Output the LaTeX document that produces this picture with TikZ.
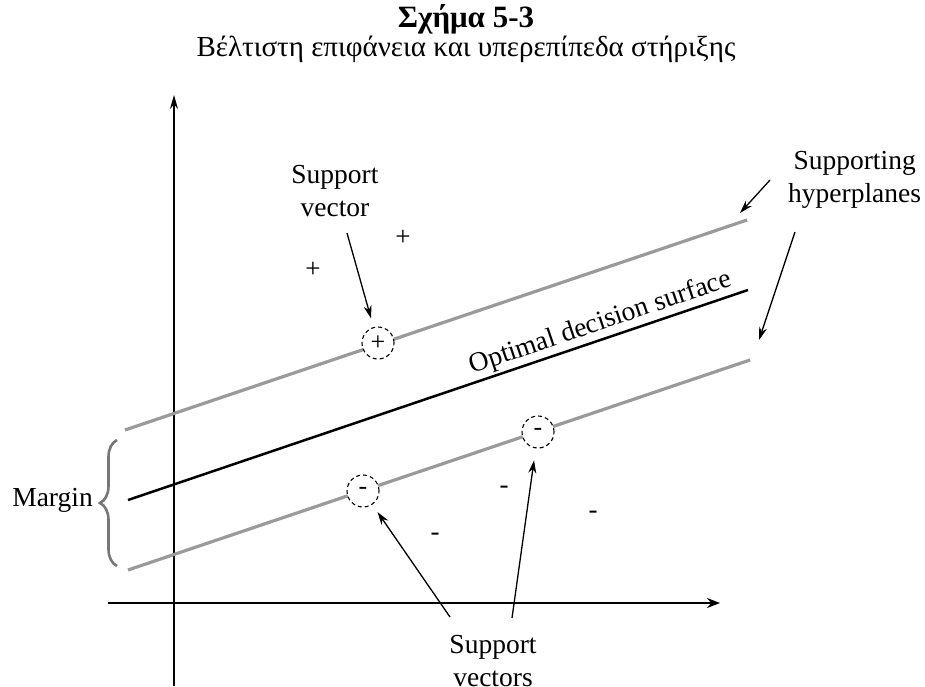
\documentclass[tikz,border=0pt]{standalone}
\usepackage{fontspec}
\setmainfont{Liberation Serif}
\usetikzlibrary{arrows.meta,decorations.pathreplacing}
\definecolor{hypgray}{HTML}{9A9A9A}
\definecolor{bracegray}{HTML}{777777}
\begin{document}
\begin{tikzpicture}[x=1pt,y=-1pt,
  lbl/.style={font=\fontsize{27.5}{33}\selectfont, inner sep=0pt, align=center},
  axisline/.style={draw=black},
  hyp/.style={draw=hypgray, line width=3.2pt},
  opt/.style={draw=black, line width=2.5pt},
  svc/.style={circle, draw=black, dashed, line width=1.1pt, minimum size=32pt, inner sep=0pt,
    dash pattern=on 4pt off 3pt, font=\fontsize{26}{26}\selectfont},
  pt/.style={font=\fontsize{27}{27}\selectfont, inner sep=0pt},
  arr/.style={draw=black, line width=1.3pt, -{Stealth[length=13pt,width=8pt]}},
  brc/.style={draw=bracegray, line width=2.6pt, decorate,
    decoration={brace, amplitude=17pt}}
]
\useasboundingbox (0,0) rectangle (925,686);

% titles
\node[font=\bfseries\fontsize{31}{35}\selectfont, inner sep=0pt, anchor=base] (title) at (466,27) {Σχήμα 5-3};
\node[font=\fontsize{29}{33}\selectfont, inner sep=0pt, anchor=base] (subtitle) at (466,56) {Βέλτιστη επιφάνεια και υπερεπίπεδα στήριξης};

% axes
\coordinate (vb) at (174,686);
\coordinate (vt) at (174,95);
\coordinate (hl) at (108,603);
\coordinate (hr) at (720,603);
\draw[axisline, line width=1.3pt, -{Stealth[length=14pt,width=8pt]}] (vb) -- (vt);
\draw[axisline, line width=2.6pt, -{Stealth[length=13pt,width=10pt]}] (hl) -- (hr);

% hyperplanes
\coordinate (u1) at (125,430);
\coordinate (u2) at (747,220);
\coordinate (m1) at (128,500);
\coordinate (m2) at (748,290);
\coordinate (l1) at (128,570);
\coordinate (l2) at (750,360);
\draw[hyp] (u1) -- (u2);
\draw[hyp] (l1) -- (l2);
\draw[opt] (m1) -- (m2) node[pos=0.77, sloped, anchor=south, inner sep=2pt,
  font=\fontsize{27.5}{27.5}\selectfont] (optlbl) {Optimal decision surface};

% support vectors (circles)
\node[svc, fill=white] (sv1) at (378,343) {+};
\node[svc, fill=white] (sv2) at (363,491) {-};
\node[svc, fill=white] (sv3) at (538,432) {-};

% other points
\node[pt] (p1) at (403,238) {+};
\node[pt] (p2) at (313,270) {+};
\node[pt] (n1) at (504,490) {-};
\node[pt] (n2) at (435,537) {-};
\node[pt] (n3) at (593,515) {-};

% labels
\node[lbl] (svlab) at (335,191) {Support\\vector};
\node[lbl] (svslab) at (493,661) {Support\\vectors};
\node[lbl, anchor=west] (hyplab) at (788,180) {Supporting\\hyperplanes};
\node[lbl, anchor=east] (marglab) at (93,500) {Margin};

% arrows
\coordinate (a1s) at (347,233);
\coordinate (a2s) at (450,617);
\coordinate (a3s) at (512,618);
\coordinate (a4s) at (770,180);
\coordinate (a4e) at (740,213);
\coordinate (a5s) at (795,232);
\coordinate (a5e) at (759,340);
\draw[arr, shorten >=9pt] (a1s) -- (sv1);
\draw[arr, shorten >=9pt] (a2s) -- (sv2);
\draw[arr, shorten >=12pt] (a3s) -- (sv3);
\draw[arr] (a4s) -- (a4e);
\draw[arr] (a5s) -- (a5e);

% margin brace
\coordinate (bb) at (117,566);
\coordinate (bt) at (117,440);
\draw[brc] (bb) -- (bt);
\end{tikzpicture}
\end{document}
